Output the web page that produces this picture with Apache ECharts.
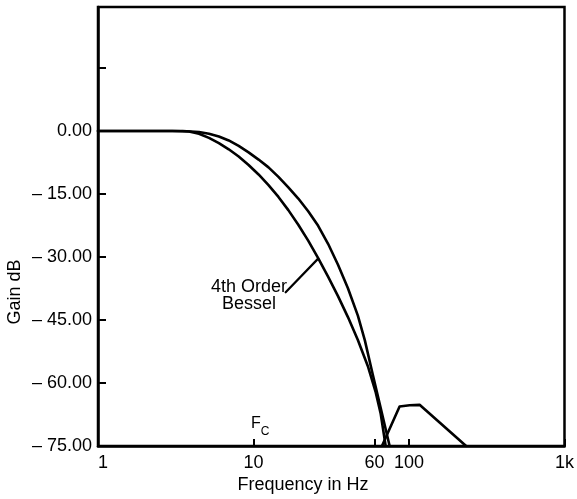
<!DOCTYPE html>
<html>
<head>
<meta charset="utf-8">
<script src="https://cdn.jsdelivr.net/npm/echarts@6/dist/echarts.min.js"></script>
<style>
html,body{margin:0;padding:0;background:#fff;}
#chart{width:577px;height:499px;}
</style>
</head>
<body>
<div id="chart"></div>
<script>
// Tick values and labels
const freqTicks = [1, 10, 60, 100, 1000];
const freqTickLabels = ['1', '10', '60', '100', '1k'];
const gainTicks = [0, -15, -30, -45, -60, -75];

// 4th order Bessel response (inner curve)
const besselFreq = [1, 3.0, 3.85, 4.46, 5.17, 5.99, 6.93, 8.03, 9.3, 10.78, 12.49, 14.47, 16.75, 19.41, 22.48, 26.05, 30.17, 34.95, 40.49, 46.9, 54.32, 61.11, 65.77, 70.78];
const besselGain = [0, 0, -0.12, -0.67, -1.66, -2.9, -4.37, -6.09, -8.11, -10.36, -12.91, -15.71, -18.85, -22.32, -26.12, -30.28, -34.68, -39.32, -44.31, -49.77, -55.95, -62.23, -67.34, -75];

// Second low-pass response (outer curve)
const otherFreq = [1, 3.5, 4.46, 5.17, 5.99, 6.93, 8.03, 9.3, 10.78, 12.49, 14.47, 16.75, 19.41, 22.48, 26.05, 30.17, 34.95, 40.49, 46.9, 51.97, 58.47, 65.77, 75.07];
const otherGain = [0, 0, -0.24, -0.67, -1.33, -2.26, -3.57, -5.11, -6.82, -8.68, -10.94, -13.43, -16.09, -19.13, -22.58, -26.86, -31.85, -37.44, -43.97, -49.8, -57.97, -65.96, -75];

// Spurious hump above the cut-off
const humpFreq = [67, 87, 101, 117, 233];
const humpGain = [-75, -65.6, -65.3, -65.2, -75];

// Pointer from the label to the Bessel curve
const pointerFreq = [16.1, 26.05];
const pointerGain = [-38.4, -30.4];

const FONT = "'Liberation Sans', Arial, Helvetica, sans-serif";
const zip = (a, b) => a.map((v, i) => [v, b[i]]);

const chart = echarts.init(document.getElementById('chart'), null, {renderer: 'canvas'});

const lineSeries = (name, xs, ys, width) => ({
  name: name,
  type: 'line',
  data: zip(xs, ys),
  symbol: 'none',
  smooth: false,
  lineStyle: {color: '#000', width: width, join: 'round', cap: 'round'},
  silent: true,
  z: 3
});

chart.setOption({
  animation: false,
  backgroundColor: '#fff',
  grid: {
    left: 98, right: 9, top: 7, bottom: 53,
    show: true, borderColor: '#000', borderWidth: 2.5, backgroundColor: 'transparent'
  },
  xAxis: {
    type: 'log',
    logBase: 10,
    min: 1,
    max: 1000,
    axisLine: {show: true, onZero: false, lineStyle: {color: '#000', width: 2.5}},
    axisTick: {show: true, inside: true, length: 7, customValues: freqTicks, lineStyle: {color: '#000', width: 2}},
    minorTick: {show: false},
    splitLine: {show: false},
    axisLabel: {
      customValues: freqTicks,
      formatter: function (v) {
        const i = freqTicks.findIndex(t => Math.abs(t - v) < 1e-6 * t);
        return i >= 0 ? freqTickLabels[i] : '';
      },
      color: '#000', fontSize: 18, fontFamily: FONT, margin: 8,
      alignMinLabel: 'left'
    }
  },
  yAxis: {
    type: 'value',
    min: -75,
    max: 29.5,
    interval: 15,
    axisLine: {show: true, onZero: false, lineStyle: {color: '#000', width: 2.5}},
    axisTick: {show: true, inside: true, length: 8, lineStyle: {color: '#000', width: 2}},
    splitLine: {show: false},
    axisLabel: {
      formatter: function (v) {
        if (gainTicks.indexOf(v) < 0) return '';
        if (v === 0) return '0.00';
        return '\u2013 ' + Math.abs(v).toFixed(2);
      },
      color: '#000', fontSize: 18, fontFamily: FONT, margin: 6
    }
  },
  series: [
    lineSeries('Bessel', besselFreq, besselGain, 2.6),
    lineSeries('Other', otherFreq, otherGain, 2.6),
    lineSeries('Hump', humpFreq, humpGain, 2.6),
    lineSeries('Pointer', pointerFreq, pointerGain, 2.2)
  ],
  graphic: [
    {
      type: 'text',
      x: 303, y: 485,
      style: {text: 'Frequency in Hz', fill: '#000', font: '18px ' + FONT, textAlign: 'center', textVerticalAlign: 'middle'}
    },
    {
      type: 'text',
      x: 15, y: 292,
      rotation: Math.PI / 2,
      style: {text: 'Gain dB', fill: '#000', font: '18px ' + FONT, textAlign: 'center', textVerticalAlign: 'middle'}
    },
    {
      type: 'text',
      x: 249, y: 296,
      style: {text: '4th Order\nBessel', fill: '#000', font: '18px ' + FONT, textAlign: 'center', textVerticalAlign: 'middle', lineHeight: 17}
    },
    {
      type: 'text',
      x: 251, y: 416,
      style: {
        text: '{a|F}{b|C}',
        rich: {
          a: {fontSize: 16, fontFamily: FONT, fill: '#000', color: '#000', verticalAlign: 'top', lineHeight: 16},
          b: {fontSize: 12, fontFamily: FONT, fill: '#000', color: '#000', verticalAlign: 'bottom', lineHeight: 22}
        }
      }
    }
  ]
});
</script>
</body>
</html>
